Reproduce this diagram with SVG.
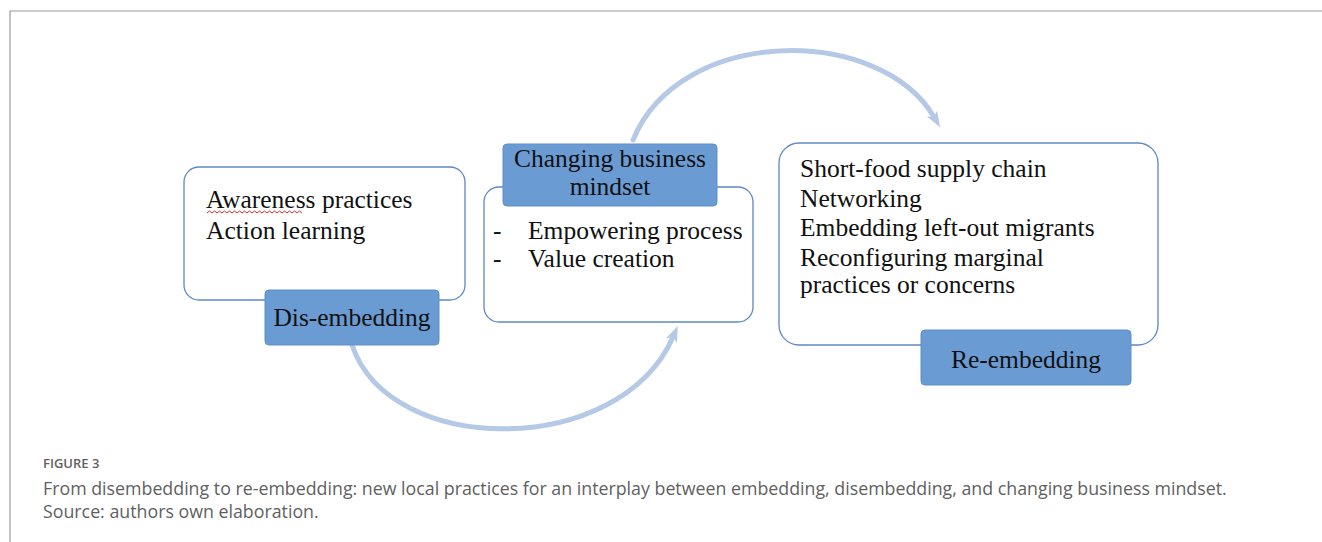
<svg xmlns="http://www.w3.org/2000/svg" width="1322" height="542" viewBox="0 0 1322 542">
<defs>
<style>
.frame{fill:none;stroke:#9a9a9a;stroke-width:1.2}
.box{fill:#ffffff;stroke:#5d88c4;stroke-width:1.3}
.lbl{fill:#6b9bd3;stroke:#5f8fca;stroke-width:1}
.t{font-family:"Liberation Serif","Times New Roman",serif;font-size:25.5px;fill:#111111}
.c{text-anchor:middle}
.arc{fill:none;stroke:#b5c9e6;stroke-width:5;stroke-linecap:round}
.cap{font-family:"Open Sans","Noto Sans",sans-serif;fill:#5f5f5f}
</style>
<marker id="ah" markerUnits="userSpaceOnUse" markerWidth="20" markerHeight="20" refX="4" refY="8" orient="auto" viewBox="0 0 20 16">
<path d="M0,2 L16,8 L0,14 L4,8 Z" fill="#b5c9e6"/>
</marker>
</defs>
<rect width="1322" height="542" fill="#ffffff"/>
<path class="frame" d="M10,542 L10,11 L1322,11"/>

<g id="connectors">
<path class="arc" d="M633,140 C680,25 880,25 934,117" marker-end="url(#ah)"/>
<path class="arc" d="M352,345 C390,458 620,458 673,337" marker-end="url(#ah)"/>
</g>

<g id="node-disembedding">
<rect class="box" x="184" y="167" width="281" height="133" rx="15"/>
<text class="t" x="206" y="208">Awareness practices</text>
<path d="M207,213 l2.5,-2 l2.5,2 l2.5,-2 l2.5,2 l2.5,-2 l2.5,2 l2.5,-2 l2.5,2 l2.5,-2 l2.5,2 l2.5,-2 l2.5,2 l2.5,-2 l2.5,2 l2.5,-2 l2.5,2 l2.5,-2 l2.5,2 l2.5,-2 l2.5,2 l2.5,-2 l2.5,2 l2.5,-2 l2.5,2 l2.5,-2 l2.5,2 l2.5,-2 l2.5,2 l2.5,-2 l2.5,2 l2.5,-2 l2.5,2 l2.5,-2 l2.5,2 l2.5,-2 l2.5,2 l2.5,-2 l2.5,2" fill="none" stroke="#d42a2a" stroke-width="1"/>
<text class="t" x="206" y="239">Action learning</text>
<rect class="lbl" x="265" y="290" width="174" height="55" rx="4"/>
<text class="t c" x="352" y="326">Dis-embedding</text>
</g>

<g id="node-changing">
<rect class="box" x="484" y="187" width="269" height="135" rx="15"/>
<text class="t" x="493" y="239">-</text>
<text class="t" x="528" y="239">Empowering process</text>
<text class="t" x="493" y="267">-</text>
<text class="t" x="528" y="267">Value creation</text>
<rect class="lbl" x="503" y="144" width="214" height="62" rx="4"/>
<text class="t c" x="610" y="167" font-size="25">Changing business</text>
<text class="t c" x="610" y="195" font-size="25">mindset</text>
</g>

<g id="node-reembedding">
<rect class="box" x="779" y="143" width="379" height="202" rx="20"/>
<text class="t" x="800" y="177">Short-food supply chain</text>
<text class="t" x="800" y="207">Networking</text>
<text class="t" x="800" y="236">Embedding left-out migrants</text>
<text class="t" x="800" y="266">Reconfiguring marginal</text>
<text class="t" x="800" y="293">practices or concerns</text>
<rect class="lbl" x="921" y="330" width="210" height="55" rx="4"/>
<text class="t c" x="1026" y="368">Re-embedding</text>
</g>

<g id="caption">
<text class="cap" x="43" y="468" font-size="13" font-weight="600" fill="#6a6a6a">FIGURE 3</text>
<text class="cap" x="43" y="495" font-size="17.8">From disembedding to re-embedding: new local practices for an interplay between embedding, disembedding, and changing business mindset.</text>
<text class="cap" x="43" y="518" font-size="17.8">Source: authors own elaboration.</text>
</g>
</svg>
